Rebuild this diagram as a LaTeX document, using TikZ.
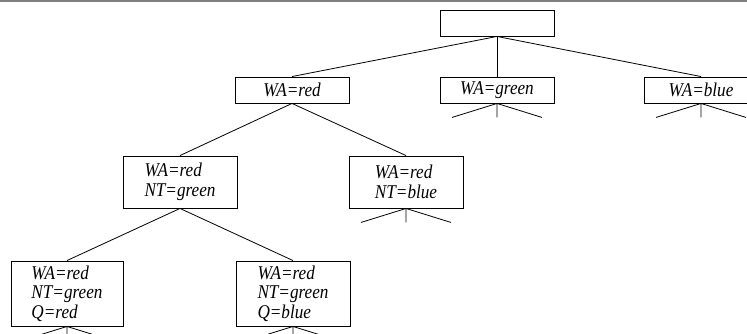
\documentclass[tikz,border=0pt]{standalone}
\usepackage{fontspec}
\setmainfont[FakeStretch=0.88]{Liberation Serif}
\usepackage{tikz}
\usetikzlibrary{calc}

\tikzset{
	state/.style={draw, line width=.9pt, minimum width=114pt, minimum height=26pt,
		inner sep=2pt, align=left, font=\itshape\fontsize{19.5}{19.5}\selectfont},
	edge/.style={line width=.8pt}
}

\begin{document}
\begin{tikzpicture}[x=1pt, y=-1pt]
		\useasboundingbox (0,0) rectangle (747,334);
		\clip (0,0) rectangle (747,334);
		% frame line at top
		\draw[gray, line width=2pt] (0,1) -- (747,1);
		% root and first level
		\node[state] (root) at (497,23) {};
		\node[state] (wared) at (292,90) {WA=red};
		\node[state] (wagreen) at (497,90) {WA=green};
		\node[state] (wablue) at (701,90) {WA=blue};
		% second level
		\node[state, minimum height=52pt] (ntgreen) at (180,182) {WA=red\\NT=green};
		\node[state, minimum height=52pt] (ntblue) at (406,182) {WA=red\\NT=blue};
		% third level
		\node[state, minimum width=112pt, minimum height=65pt] (qred) at (67,293.5) {WA=red\\NT=green\\Q=red};
		\node[state, minimum height=65pt] (qblue) at (293,293.5) {WA=red\\NT=green\\Q=blue};
		% branches
		\draw[edge] (root.south) -- (wared.north);
		\draw[edge] (root.south) -- (wagreen.north);
		\draw[edge] (root.south) -- (wablue.north);
		\draw[edge] (wared.south) -- (ntgreen.north);
		\draw[edge] (wared.south) -- (ntblue.north);
		\draw[edge] (ntgreen.south) -- (qred.north);
		\draw[edge] (ntgreen.south) -- (qblue.north);
		% unexpanded subtrees
		\foreach \n in {wagreen, wablue, ntblue, qred, qblue}
			\draw[edge] (\n.south) -- ++(-45,14) (\n.south) -- ++(0,14) (\n.south) -- ++(45,14);
	\end{tikzpicture}
\end{document}
